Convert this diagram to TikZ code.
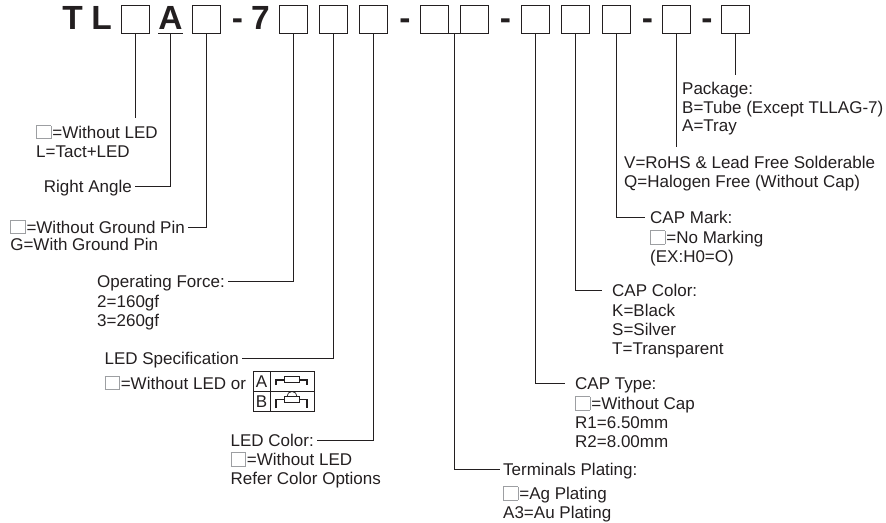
\documentclass[tikz,border=0pt]{standalone}
\usepackage{fontspec}
\setmainfont{Liberation Sans}
\usetikzlibrary{positioning}
\definecolor{ink}{HTML}{231F20}
\definecolor{frame}{HTML}{9D9FA2}
\newcommand{\labelfont}{\fontsize{17}{18.7}\selectfont}
\newcommand{\codefont}{\fontsize{33.5}{36}\selectfont\bfseries}
\newcommand{\blankbox}{{\setlength{\fboxsep}{0pt}\setlength{\fboxrule}{0.8pt}\fcolorbox{frame}{white}{\rule{0pt}{12.4pt}\hspace{13.6pt}}}\kern1pt}

\begin{document}
\begin{tikzpicture}[x=1pt,y=-1pt,
  lead/.style={draw=ink, line width=0.9pt},
  pin/.style={draw=ink, line width=1.5pt},
  code/.style={font=\codefont, text=ink, anchor=base, inner xsep=0pt, inner ysep=4pt, text depth=0pt},
  slot/.style={draw=ink, line width=1pt, minimum size=28pt, inner sep=0pt},
  tag/.style={font=\labelfont, text=ink, inner xsep=3pt, inner ysep=0pt, text height=12pt, text depth=0pt},
  notes/.style={font=\labelfont, text=ink, align=left, inner xsep=3pt, inner ysep=0pt, anchor=north west},
  cellnote/.style={font=\labelfont, text=ink, inner sep=0pt, text height=12pt, text depth=0pt}]
\useasboundingbox (0,0) rectangle (886,522);

% part number
\node[code] (t) at (72.5,29.3) {T};
\node[code] (l) at (101.5,29.3) {L};
\node[slot] (b1) at (135,19) {};
\node[code] (a) at (170.5,29.3) {A};
\node[slot] (b2) at (206,19) {};
\node[code] (d1) at (237.5,29.3) {-};
\node[code] (seven) at (260.5,29.3) {7};
\node[slot] (b3) at (293,19) {};
\node[slot] (b4) at (333.3,19) {};
\node[slot] (b5) at (373.5,19) {};
\node[code] (d2) at (405,29.3) {-};
\node[slot] (b6) at (434.7,19) {};
\node[slot] (b7) at (474.5,19) {};
\node[code] (d3) at (505.5,29.3) {-};
\node[slot] (b8) at (535,19) {};
\node[slot] (b9) at (575.5,19) {};
\node[slot] (b10) at (616,19) {};
\node[code] (d4) at (647.5,29.3) {-};
\node[slot] (b11) at (676,19) {};
\node[code] (d5) at (707,29.3) {-};
\node[slot] (b12) at (735.5,19) {};
\draw[lead] (a.south west) -- (a.south east);

% left side
\node[notes] (nled) at (33,125) {\blankbox=Without LED\\L=Tact+LED};
\node[tag, anchor=east] (angle) at (135,186) {Right Angle};
\node[tag, anchor=east] (ground) at (188,227) {\blankbox=Without Ground Pin};
\node[notes, below=5pt of ground.south west, anchor=north west] (groundv) {G=With Ground Pin};
\node[tag, anchor=east] (force) at (228,281) {Operating Force:};
\node[notes, below=8pt of force.south west, anchor=north west] (forcev) {2=160gf\\3=260gf};
\node[tag, anchor=east] (spec) at (242,358) {LED Specification};
\node[notes, below=11.5pt of spec.south west, anchor=north west] (specv) {\blankbox=Without LED or};
\node[tag, anchor=east] (color) at (317,440) {LED Color:};
\node[notes, below=6pt of color.south west, anchor=north west] (colorv) {\blankbox=Without LED\\Refer Color Options};

% LED types
\draw[lead] (253,371) rectangle (314,411);
\draw[lead] (270,371) -- (270,411);
\draw[lead] (253,391) -- (314,391);
\node[cellnote] (leda) at (261.5,381) {A};
\node[cellnote] (ledb) at (261.5,401) {B};
\draw[pin] (276,385) -- (276,380) -- (284,380);
\draw[pin] (299,380) -- (307,380) -- (307,385);
\draw[lead, line width=0.7pt] (284,376) rectangle (299,382);
\draw[pin] (276,408) -- (276,399.5) -- (284,399.5);
\draw[pin] (299,399.5) -- (307,399.5) -- (307,408);
\draw[lead, line width=0.7pt] (284,396.5) rectangle (299,402);
\draw[lead, line width=0.7pt] (287,396.5) arc[start angle=180, end angle=360, radius=5];

% right side
\node[tag, anchor=west] (plating) at (500,469) {Terminals Plating:};
\node[notes, below=11pt of plating.south west, anchor=north west] (platingv) {\blankbox=Ag Plating\\A3=Au Plating};
\node[tag, anchor=west] (captype) at (572,383) {CAP Type:};
\node[notes, below=7pt of captype.south west, anchor=north west] (captypev) {\blankbox=Without Cap\\R1=6.50mm\\R2=8.00mm};
\node[tag, anchor=west] (capcolor) at (609,290) {CAP Color:};
\node[notes, below=8pt of capcolor.south west, anchor=north west] (capcolorv) {K=Black\\S=Silver\\T=Transparent};
\node[tag, anchor=west] (capmark) at (647,217) {CAP Mark:};
\node[notes, below=7pt of capmark.south west, anchor=north west] (capmarkv) {\blankbox=No Marking\\(EX:H0=O)};
\node[notes] (rohs) at (621,156) {V=RoHS \& Lead Free Solderable\\Q=Halogen Free (Without Cap)};
\node[notes] (package) at (679,82) {Package:\\B=Tube (Except TLLAG-7)\\A=Tray};

% leaders
\draw[lead, shorten >=7pt] (b1.south) -- (b1.south |- nled.north);
\draw[lead] (a.south) |- (angle.east);
\draw[lead] (b2.south) |- (ground.east);
\draw[lead] (b3.south) |- (force.east);
\draw[lead] (b4.south) |- (spec.east);
\draw[lead] (b5.south) |- (color.east);
\draw[lead] (b6.south) -- coordinate (b67) (b7.south);
\draw[lead] (b67) |- (plating.west);
\draw[lead, shorten >=7pt] (b8.south) |- (captype.west);
\draw[lead, shorten >=7pt] (b9.south) |- (capcolor.west);
\draw[lead, shorten >=2pt] (b10.south) |- (capmark.west);
\draw[lead, shorten >=9pt] (b11.south) -- (b11.south |- rohs.north);
\draw[lead, shorten >=7pt] (b12.south) -- (b12.south |- package.north);
\end{tikzpicture}
\end{document}
